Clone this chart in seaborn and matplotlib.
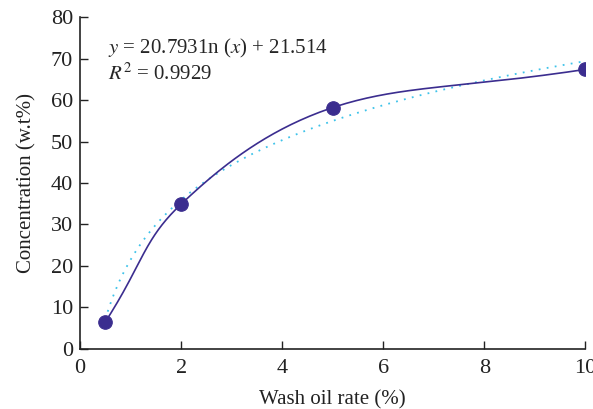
import numpy as np
import pandas as pd
import matplotlib
matplotlib.use("Agg")
import matplotlib.pyplot as plt
import seaborn as sns

# data
wash_rate = [0.5, 2, 5, 10]
concentration = [6.5, 34.9, 58.2, 67.4]
fit_a, fit_b = 20.793, 21.514
fit_label = r"$y$ = 20.7931n ($x$) + 21.514" + "\n" + r"$R^2$ = 0.9929"

sns.set_theme(style="ticks")
plt.rcParams["font.family"] = ["Liberation Serif", "DejaVu Serif"]
plt.rcParams["mathtext.fontset"] = "stix"

line_col = "#3b2d8f"
fit_col = "#3ec3ea"


def smooth(xs, ys, n=60):
    # spreadsheet-like smoothed line (bezier through the points)
    P = np.column_stack([xs, ys]).astype(float)
    out = []
    t = np.linspace(0, 1, n)[:, None]
    for i in range(len(P) - 1):
        p1, p2 = P[i], P[i + 1]
        if i == 0:
            c1 = p1 + (p2 - p1) / 2
        else:
            c1 = p1 + (p2 - P[i - 1]) / 6
        if i == len(P) - 2:
            c2 = p2 - (p2 - p1) / 2
        else:
            c2 = p2 - (P[i + 2] - p1) / 6
        seg = ((1 - t) ** 3) * p1 + 3 * ((1 - t) ** 2) * t * c1 + 3 * (1 - t) * t ** 2 * c2 + t ** 3 * p2
        out.append(seg)
    out = np.vstack(out)
    return out[:, 0], out[:, 1]


df = pd.DataFrame({"rate": wash_rate, "conc": concentration})
sx, sy = smooth(wash_rate, concentration)
fx = np.linspace(min(wash_rate), max(wash_rate), 200)
fy = fit_a * np.log(fx) + fit_b

fig = plt.figure(figsize=(5.93, 4.09), dpi=100)
ax = fig.add_axes([0.135, 0.147, 0.852, 0.811])

ax.plot(fx, fy, color=fit_col, lw=1.3, ls=(0, (1, 3.5)))
ax.plot(sx, sy, color=line_col, lw=1.2)
sns.scatterplot(data=df, x="rate", y="conc", ax=ax, color=line_col, s=95,
                edgecolor=line_col, zorder=3, legend=False)

ax.text(0.55, 69.5, fit_label, fontsize=15, va="center", ha="left", linespacing=1.2)

ax.set_xlim(0, 10)
ax.set_ylim(0, 80)
ax.set_xticks([0, 2, 4, 6, 8, 10])
ax.set_yticks(range(0, 81, 10))
ax.tick_params(direction="in", length=6, width=1, labelsize=16, colors="#222222", pad=5)
ax.tick_params(axis="x", pad=7)
ax.set_xlabel("Wash oil rate (%)", fontsize=15, color="#222222", labelpad=9)
ax.set_ylabel("Concentration (w.t%)", fontsize=15, color="#222222", labelpad=10)
for s in ["top", "right"]:
    ax.spines[s].set_visible(False)
for s in ["left", "bottom"]:
    ax.spines[s].set_color("#222222")
    ax.spines[s].set_linewidth(1.2)

fig.savefig("out.png", dpi=100)
